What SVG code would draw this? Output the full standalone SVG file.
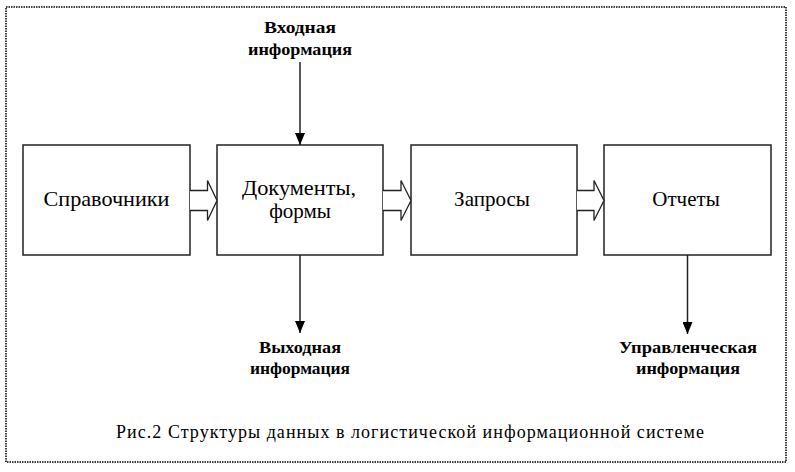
<svg xmlns="http://www.w3.org/2000/svg" width="795" height="472" viewBox="0 0 795 472">
<style>
.box{fill:#fff;stroke:#222;stroke-width:1.5}
text{font-family:'Liberation Serif','DejaVu Serif','Noto Serif',serif;fill:#000;text-anchor:middle}
.lbl{font-size:21px}
.bl{font-size:17px;font-weight:bold}
.cap{font-size:18px}
.ln{stroke:#222;stroke-width:1.5;fill:none}
.hollow{fill:#fff;stroke:#222;stroke-width:1.3;stroke-linejoin:miter}
</style>
<defs>
<marker id="ah" viewBox="0 0 12 10" refX="12" refY="5" markerWidth="12" markerHeight="10" markerUnits="userSpaceOnUse" orient="auto">
<path d="M0,0 L12,5 L0,10 Z" fill="#000"/>
</marker>
</defs>
<rect x="6" y="7" width="780" height="455" fill="#fff" stroke="#000" stroke-width="1.5" stroke-dasharray="1.5 1"/>
<g id="node-spravochniki">
<rect class="box" x="23" y="145" width="167" height="110"/>
<text class="lbl" x="106.5" y="206" textLength="126" lengthAdjust="spacingAndGlyphs">Справочники</text>
</g>
<g id="node-dokumenty">
<rect class="box" x="217" y="145" width="166" height="110"/>
<text class="lbl" x="299" y="195" textLength="114" lengthAdjust="spacingAndGlyphs">Документы,</text>
<text class="lbl" x="300" y="218">формы</text>
</g>
<g id="node-zaprosy">
<rect class="box" x="411" y="145" width="166" height="110"/>
<text class="lbl" x="492" y="206">Запросы</text>
</g>
<g id="node-otchety">
<rect class="box" x="604" y="145" width="167" height="110"/>
<text class="lbl" x="686" y="206">Отчеты</text>
</g>
<g id="label-input">
<text class="bl" x="300" y="33" textLength="72" lengthAdjust="spacingAndGlyphs">Входная</text>
<text class="bl" x="300" y="55" textLength="104" lengthAdjust="spacingAndGlyphs">информация</text>
</g>
<g id="label-output">
<text class="bl" x="300" y="353" textLength="82" lengthAdjust="spacingAndGlyphs">Выходная</text>
<text class="bl" x="300" y="374" textLength="100" lengthAdjust="spacingAndGlyphs">информация</text>
</g>
<g id="label-management">
<text class="bl" x="688" y="353" textLength="138" lengthAdjust="spacingAndGlyphs">Управленческая</text>
<text class="bl" x="688" y="374" textLength="104" lengthAdjust="spacingAndGlyphs">информация</text>
</g>
<g id="connectors">
<path class="hollow" d="M190,190.5 H207.5 V180.5 L217,200.5 L207.5,220.5 V210.5 H190"/>
<path class="hollow" d="M383,190.5 H401 V180.5 L411,200.5 L401,220.5 V210.5 H383"/>
<path class="hollow" d="M577,190.5 H594 V180.5 L604,200.5 L594,220.5 V210.5 H577"/>
<line class="ln" x1="300" y1="62" x2="300" y2="145" marker-end="url(#ah)"/>
<line class="ln" x1="300" y1="255" x2="300" y2="333" marker-end="url(#ah)"/>
<line class="ln" x1="687.5" y1="255" x2="687.5" y2="334" marker-end="url(#ah)"/>
</g>
<text class="cap" x="410" y="438" textLength="588" lengthAdjust="spacing">Рис.2 Структуры данных в логистической информационной системе</text>
</svg>
